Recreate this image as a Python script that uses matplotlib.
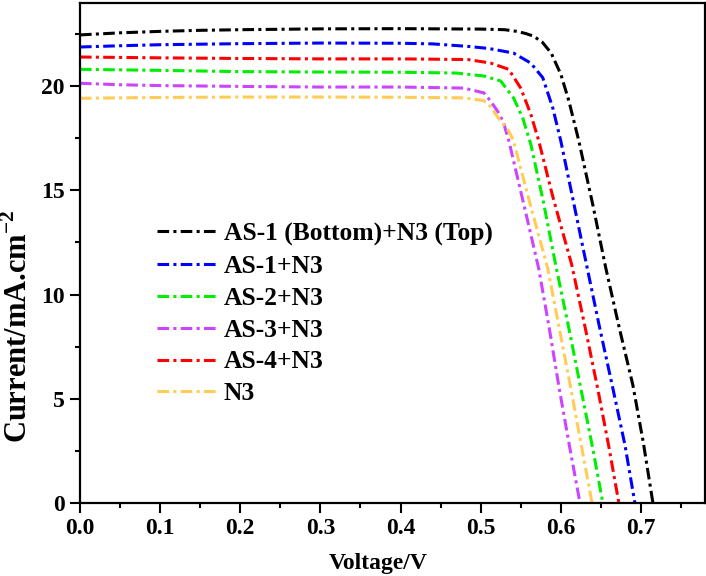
import matplotlib
matplotlib.use("Agg")
import matplotlib.pyplot as plt
from matplotlib.ticker import MultipleLocator

plt.rcParams["font.family"] = ["Liberation Serif", "DejaVu Serif"]
plt.rcParams["font.weight"] = "bold"
plt.rcParams["mathtext.fontset"] = "custom"
plt.rcParams["mathtext.rm"] = "Liberation Serif:bold"
plt.rcParams["mathtext.bf"] = "Liberation Serif:bold"

# J-V curves
v_as1_top = [0, 0.05, 0.1, 0.15, 0.2, 0.3, 0.4, 0.5, 0.53, 0.545, 0.556, 0.566, 0.577,
             0.588, 0.6, 0.61, 0.6225, 0.64, 0.656, 0.673, 0.69, 0.703, 0.715]
i_as1_top = [22.45, 22.55, 22.62, 22.67, 22.7, 22.74, 22.75, 22.73, 22.7, 22.62, 22.52, 22.39, 22.1,
             21.58, 20.57, 19.3, 17.37, 14.3, 11.3, 8.4, 5.65, 2.9, 0.0]

v_as1 = [0, 0.05, 0.1, 0.2, 0.3, 0.4, 0.44, 0.484, 0.51, 0.541, 0.5625, 0.5775, 0.59, 0.6,
         0.615, 0.632, 0.648, 0.665, 0.68, 0.6925]
i_as1 = [21.87, 21.93, 21.98, 22.03, 22.06, 22.05, 22.02, 21.9, 21.8, 21.58, 21.1, 20.4, 18.95, 17.37,
         14.6, 11.45, 8.5, 5.5, 2.8, 0.0]

v_as2 = [0, 0.1, 0.2, 0.3, 0.4, 0.47, 0.504, 0.525, 0.541, 0.5525, 0.5625, 0.578, 0.594,
         0.61, 0.625, 0.64, 0.6525]
i_as2 = [20.8, 20.75, 20.69, 20.67, 20.66, 20.62, 20.48, 20.24, 19.43, 18.47, 17.22, 14.5, 11.35,
         8.4, 5.5, 2.6, 0.0]

v_as3 = [0, 0.05, 0.1, 0.2, 0.3, 0.4, 0.479, 0.504, 0.512, 0.521, 0.528, 0.535, 0.554,
         0.5725, 0.586, 0.598, 0.611, 0.624]
i_as3 = [20.13, 20.06, 20.02, 19.98, 19.95, 19.95, 19.9, 19.67, 19.3, 18.8, 18.3, 17.4, 14.3,
         11.24, 8.3, 5.5, 2.7, 0.0]

v_as4 = [0, 0.1, 0.2, 0.3, 0.4, 0.484, 0.5125, 0.535, 0.55, 0.5625, 0.5725, 0.59, 0.6135,
         0.63, 0.646, 0.66, 0.6725]
i_as4 = [21.39, 21.35, 21.32, 21.3, 21.3, 21.27, 21.1, 20.8, 19.9, 18.66, 17.37, 14.7, 11.45,
         8.5, 5.5, 2.7, 0.0]

v_n3 = [0, 0.1, 0.2, 0.3, 0.4, 0.479, 0.504, 0.5125, 0.525, 0.535, 0.541, 0.562, 0.5835,
        0.598, 0.6125, 0.626, 0.639]
i_n3 = [19.41, 19.45, 19.47, 19.47, 19.46, 19.43, 19.3, 19.0, 18.3, 17.85, 17.37, 14.3, 11.3,
        8.4, 5.5, 2.7, 0.0]

labels = ["AS-1 (Bottom)+N3 (Top)", "AS-1+N3", "AS-2+N3", "AS-3+N3", "AS-4+N3", "N3"]
colors = ["black", "#0000ff", "#00ee00", "#cc44ff", "#ff0000", "#ffcc55"]
series = [(v_as1_top, i_as1_top), (v_as1, i_as1), (v_as2, i_as2),
          (v_as3, i_as3), (v_as4, i_as4), (v_n3, i_n3)]

fig = plt.figure(figsize=(7.06, 5.76), dpi=100)
ax = fig.add_axes([0.1133, 0.1267, 0.8853, 0.8688])

for (v, i), lab, col in zip(series, labels, colors):
    ax.plot(v, i, color=col, lw=2.2, linestyle=(0, (3.8, 1.4, 1.0, 1.4)), label=lab)

ax.set_xlim(0, 0.78)
ax.set_ylim(0, 24)
ax.xaxis.set_major_locator(MultipleLocator(0.1))
ax.xaxis.set_minor_locator(MultipleLocator(0.05))
ax.yaxis.set_major_locator(MultipleLocator(5))
ax.yaxis.set_minor_locator(MultipleLocator(2.5))
ax.tick_params(which="major", direction="out", length=7, width=1.5, labelsize=17, pad=4)
ax.tick_params(which="minor", direction="out", length=3.6, width=1.5)
for s in ax.spines.values():
    s.set_linewidth(1.6)

ax.set_xlabel("Voltage/V", fontsize=17, fontweight="bold")
ax.set_ylabel("Current/mA.cm$^{-2}$", fontsize=22, fontweight="bold")
ax.xaxis.set_label_coords(0.477, -0.10)
ax.yaxis.set_label_coords(-0.073, 0.354)

ax.legend(loc="upper left", bbox_to_anchor=(0.123, 0.561), frameon=False, borderpad=0,
          borderaxespad=0, handlelength=2.3, handletextpad=0.32, labelspacing=0.35,
          prop={"weight": "bold", "size": 18.4})

fig.savefig("out.png", dpi=100)
